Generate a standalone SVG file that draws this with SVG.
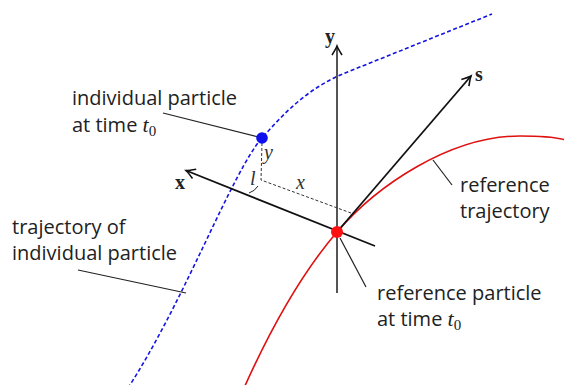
<svg xmlns="http://www.w3.org/2000/svg" width="564" height="385" viewBox="0 0 564 385">
<style>
.lbl{font-family:"Open Sans","DejaVu Sans",sans-serif;font-size:20px;fill:#222}
.math{font-family:"Liberation Serif",serif;font-style:italic;font-size:20px;fill:#333}
.ax{font-family:"Liberation Serif",serif;font-weight:bold;font-size:20px;fill:#222}
.leader{stroke:#222;stroke-width:1.2;fill:none}
.aux{stroke:#333;stroke-width:1;stroke-dasharray:3 2;fill:none}
</style>
<defs>
<marker id="arr" markerUnits="userSpaceOnUse" markerWidth="20" markerHeight="20" viewBox="-10 -10 20 20" refX="0" refY="0" orient="auto">
<path d="M -9 -5 Q -3 -1.2 0 0 Q -3 1.2 -9 5" fill="none" stroke="#111" stroke-width="1.6"/>
</marker>
</defs>
<g id="connectors">
<path id="blue-traj" d="M 128 388 C 185 300, 232 172, 262 138 C 285 112, 310 86, 350 71 L 492 14" fill="none" stroke="#1414e6" stroke-width="1.6" stroke-dasharray="4 2.5"/>
<path id="red-traj" d="M 244 388 C 270 330, 300 275, 337 232 C 377 185.5, 450 136, 520 136 C 540 136, 555 137, 566 140" fill="none" stroke="#e01010" stroke-width="1.6"/>
<line id="y-axis" x1="337" y1="293" x2="337" y2="46" stroke="#555" stroke-width="2" marker-end="url(#arr)"/>
<line id="x-axis" x1="375" y1="246" x2="186" y2="170.5" stroke="#111" stroke-width="1.8" marker-end="url(#arr)"/>
<line id="s-axis" x1="337" y1="232" x2="471" y2="76" stroke="#111" stroke-width="1.8" marker-end="url(#arr)"/>
<path class="aux" d="M 262 143 L 261 180 L 351 213"/>
<path d="M 249 193 Q 255 191 258 186" fill="none" stroke="#222" stroke-width="1"/>
<line class="leader" x1="163" y1="113" x2="262" y2="138"/>
<line class="leader" x1="78" y1="270" x2="186" y2="293"/>
<line class="leader" x1="433" y1="160" x2="452" y2="185"/>
<line class="leader" x1="340" y1="238" x2="366" y2="287"/>
</g>
<g id="particle">
<circle cx="262" cy="138" r="5.8" fill="#1010ee"/>
</g>
<g id="ref-particle">
<circle cx="337" cy="232" r="6" fill="#ff1010"/>
</g>
<g id="axis-labels">
<text class="ax" x="175" y="189">x</text>
<text class="ax" x="325" y="43">y</text>
<text class="ax" x="475" y="81">s</text>
<text class="math" x="264" y="159">y</text>
<text class="math" x="250" y="185">l</text>
<text class="math" x="296" y="189">x</text>
</g>
<g id="label-individual">
<text class="lbl" x="72" y="105">individual particle</text>
<text class="lbl" x="72" y="132">at time <tspan font-family="Liberation Serif" font-style="italic" font-size="22">t</tspan><tspan font-family="Liberation Serif" font-size="15" dy="4">0</tspan></text>
</g>
<g id="label-trajectory">
<text class="lbl" x="12" y="234">trajectory of</text>
<text class="lbl" x="12" y="260">individual particle</text>
</g>
<g id="label-reftraj">
<text class="lbl" x="460" y="192">reference</text>
<text class="lbl" x="460" y="218">trajectory</text>
</g>
<g id="label-refparticle">
<text class="lbl" x="377" y="300">reference particle</text>
<text class="lbl" x="377" y="326">at time <tspan font-family="Liberation Serif" font-style="italic" font-size="22">t</tspan><tspan font-family="Liberation Serif" font-size="15" dy="4">0</tspan></text>
</g>
</svg>
